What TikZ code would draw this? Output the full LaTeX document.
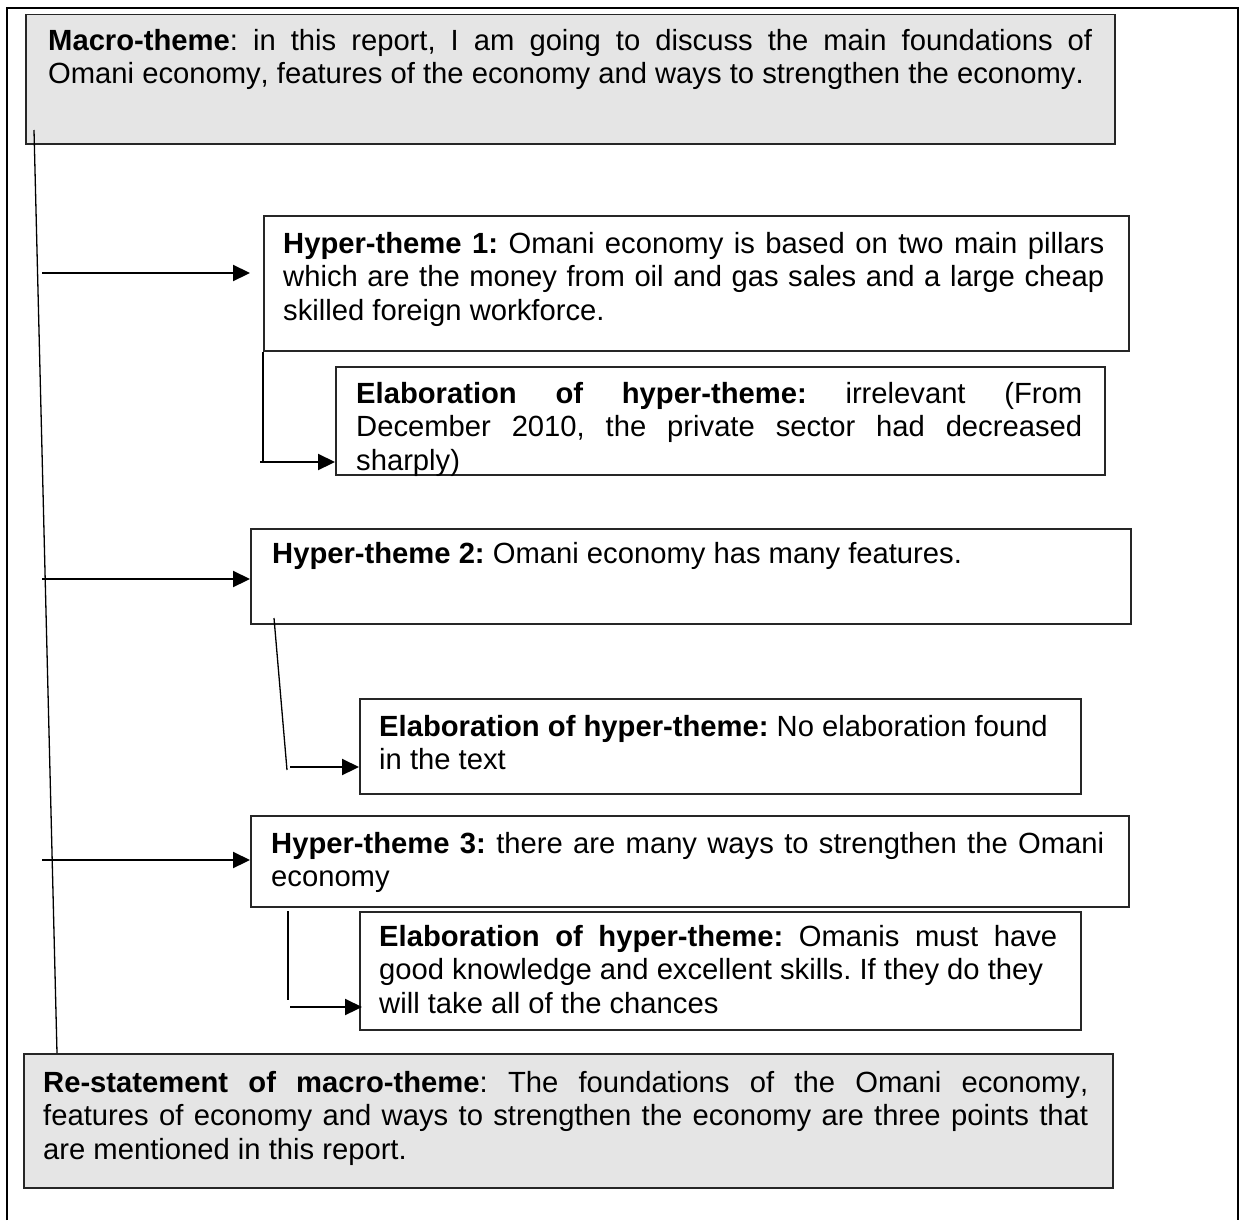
\documentclass[tikz,border=0pt]{standalone}
\usepackage{fontspec}
\setmainfont{Liberation Sans}[Kerning=Off]
\usetikzlibrary{arrows.meta}

\begin{document}
\frenchspacing
\begin{tikzpicture}[x=1pt,y=-1pt,
  box/.style={draw=black!85, line width=1.5pt, inner sep=0pt, anchor=north west},
  shade/.style={box, fill=black!10},
  txt/.style={inner sep=0pt, anchor=north west, align=justify,
    font=\fontsize{29.2}{33.5}\selectfont,
    execute at begin node={\frenchspacing\hyphenpenalty=10000 \exhyphenpenalty=10000 }},
  conn/.style={line width=1.3pt},
  arr/.style={line width=2.2pt, -{Triangle[length=17pt,width=16pt]}}]

\useasboundingbox (0,0) rectangle (1241,1220);

% outer frame (open at the bottom)
\draw[line width=2pt] (7,1220) -- (7,8) -- (1238,8) -- (1238,1220);

% boxes
\node[shade, minimum width=1089pt, minimum height=129pt] (macro) at (25,14) {};
\node[box,   minimum width=865pt,  minimum height=135pt] (h1)    at (263,215) {};
\node[box,   minimum width=769pt,  minimum height=108pt] (e1)    at (335,366) {};
\node[box,   minimum width=880pt,  minimum height=95pt]  (h2)    at (250,528) {};
\node[box,   minimum width=721pt,  minimum height=95pt]  (e2)    at (359,698) {};
\node[box,   minimum width=878pt,  minimum height=91pt]  (h3)    at (250,815) {};
\node[box,   minimum width=721pt,  minimum height=118pt] (e3)    at (359,911) {};
\node[shade, minimum width=1089pt, minimum height=134pt] (rest)  at (23,1053) {};

% texts (first baseline minus strut height)
\node[txt, text width=1044pt] (macrot) at (48,26.5)
  {\strut\textbf{Macro-theme}: in this report, I am going to discuss the main foundations of\linebreak
   Omani economy, features of the economy and ways to strengthen the economy.};
\node[txt, text width=821pt] (h1t) at (283,229.5)
  {\strut\textbf{Hyper-theme 1:} Omani economy is based on two main pillars\linebreak
   which are the money from oil and gas sales and a large cheap\linebreak
   skilled foreign workforce.};
\node[txt, text width=726pt] (e1t) at (356,379.5)
  {\strut\textbf{Elaboration of hyper-theme:} irrelevant (From\linebreak
   December 2010, the private sector had decreased\linebreak
   sharply)};
\node[txt, text width=836pt] (h2t) at (272,539.5)
  {\strut\textbf{Hyper-theme 2:} Omani economy has many features.};
\node[txt, text width=695pt] (e2t) at (379,712.5)
  {\strut\textbf{Elaboration of hyper-theme:} No elaboration found\newline
   in the text};
\node[txt, text width=833pt] (h3t) at (271,829.5)
  {\strut\textbf{Hyper-theme 3:} there are many ways to strengthen the Omani\linebreak
   economy};
\node[txt, text width=678pt] (e3t) at (379,922.5)
  {\strut\textbf{Elaboration of hyper-theme:} Omanis must have\linebreak
   good knowledge and excellent skills. If they do they\newline
   will take all of the chances};
\node[txt, text width=1045pt] (restt) at (43,1068.5)
  {\strut\textbf{Re-statement of macro-theme}: The foundations of the Omani economy,\linebreak
   features of economy and ways to strengthen the economy are three points that\linebreak
   are mentioned in this report.};

% spine from macro-theme down to the re-statement
\coordinate (st) at (34,130);
\coordinate (sb) at (57,1053);
\draw[conn] (st) -- (sb);

% arrows to the hyper-themes
\coordinate (s1) at (42,273);
\coordinate (s2) at (42,579);
\coordinate (s3) at (42,860);
\draw[arr, shorten >=13pt] (s1) -- (s1 -| h1.west);
\draw[arr] (s2) -- (s2 -| h2.west);
\draw[arr] (s3) -- (s3 -| h3.west);

% hyper-theme 1 -> elaboration
\coordinate (k1) at (263,462);
\draw[conn] (h1.south west) -- (k1);
\draw[arr] ([xshift=-3pt]k1) -- (k1 -| e1.west);

% hyper-theme 2 -> elaboration
\coordinate (k2a) at (274,618);
\coordinate (k2b) at (287,770);
\coordinate (k2c) at (290,767);
\draw[conn] (k2a) -- (k2b);
\draw[arr] (k2c) -- (k2c -| e2.west);

% hyper-theme 3 -> elaboration
\coordinate (k3a) at (288,911);
\coordinate (k3b) at (288,1000);
\coordinate (k3c) at (290,1007);
\draw[conn] (k3a) -- (k3b);
\draw[arr] (k3c) -- ([xshift=3pt]k3c -| e3.west);
\end{tikzpicture}
\end{document}
